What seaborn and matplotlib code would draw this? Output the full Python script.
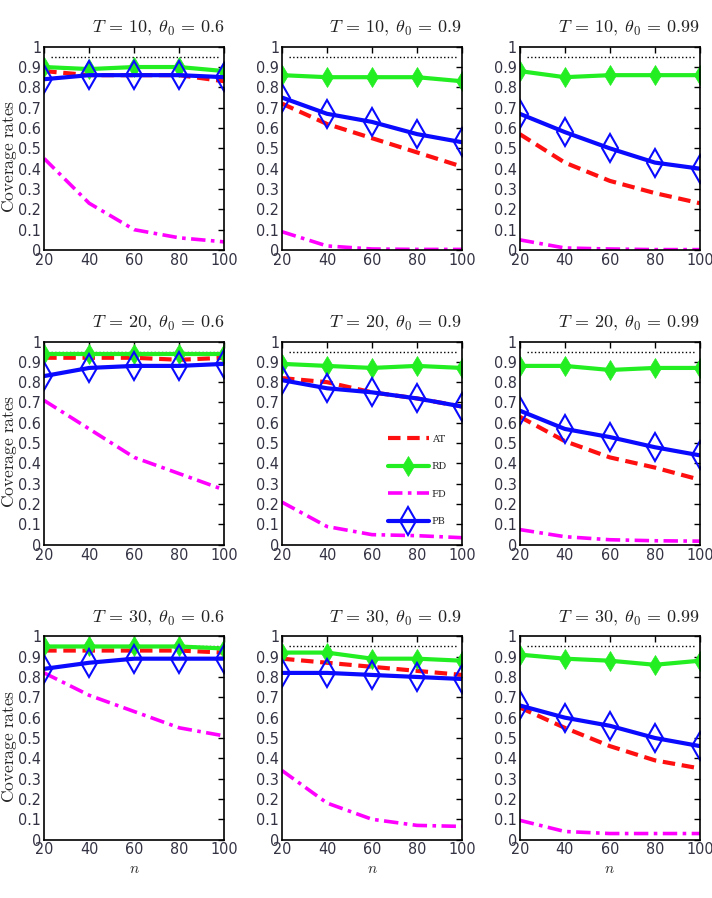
import matplotlib
matplotlib.use('Agg')
import matplotlib.pyplot as plt
from matplotlib import font_manager
import seaborn as sns
import numpy as np

sns.set_style('white')
plt.rcParams['mathtext.fontset'] = 'cm'

# pick a narrow sans font for the tick labels if one is installed
installed = font_manager.fontManager.ttflist
if any(f.name == 'Liberation Sans Narrow' for f in installed):
    tick_font = {'family': 'Liberation Sans Narrow', 'size': 12.5}
elif any(f.name == 'DejaVu Sans' and f.stretch == 'condensed' for f in installed):
    tick_font = {'family': 'DejaVu Sans', 'stretch': 'condensed', 'size': 11.5}
else:
    tick_font = {'family': 'Liberation Sans', 'size': 10.5}
plt.rcParams['font.family'] = ['Liberation Sans', 'DejaVu Sans']

# sample sizes
n_values = [20, 40, 60, 80, 100]
T_values = [10, 20, 30]
theta_values = ['0.6', '0.9', '0.99']

# coverage rates, rows = theta0 (0.6, 0.9, 0.99)
at_T10 = [[0.88, 0.86, 0.86, 0.86, 0.83],
          [0.72, 0.62, 0.55, 0.48, 0.41],
          [0.57, 0.43, 0.34, 0.28, 0.23]]
rd_T10 = [[0.90, 0.89, 0.90, 0.90, 0.88],
          [0.86, 0.85, 0.85, 0.85, 0.83],
          [0.88, 0.85, 0.86, 0.86, 0.86]]
fd_T10 = [[0.45, 0.23, 0.10, 0.06, 0.04],
          [0.09, 0.02, 0.005, 0.003, 0.003],
          [0.05, 0.01, 0.005, 0.002, 0.002]]
pb_T10 = [[0.84, 0.86, 0.86, 0.86, 0.85],
          [0.75, 0.67, 0.63, 0.57, 0.53],
          [0.67, 0.58, 0.50, 0.43, 0.40]]

at_T20 = [[0.92, 0.92, 0.92, 0.91, 0.92],
          [0.82, 0.80, 0.75, 0.72, 0.68],
          [0.63, 0.51, 0.43, 0.38, 0.32]]
rd_T20 = [[0.94, 0.94, 0.94, 0.94, 0.94],
          [0.89, 0.88, 0.87, 0.88, 0.87],
          [0.88, 0.88, 0.86, 0.87, 0.87]]
fd_T20 = [[0.71, 0.57, 0.43, 0.35, 0.27],
          [0.21, 0.09, 0.05, 0.045, 0.035],
          [0.075, 0.04, 0.025, 0.02, 0.018]]
pb_T20 = [[0.83, 0.87, 0.88, 0.88, 0.89],
          [0.81, 0.77, 0.75, 0.72, 0.68],
          [0.66, 0.57, 0.53, 0.48, 0.44]]

at_T30 = [[0.93, 0.93, 0.93, 0.93, 0.92],
          [0.89, 0.87, 0.85, 0.83, 0.81],
          [0.65, 0.55, 0.46, 0.39, 0.35]]
rd_T30 = [[0.95, 0.95, 0.95, 0.95, 0.94],
          [0.92, 0.92, 0.89, 0.89, 0.88],
          [0.91, 0.89, 0.88, 0.86, 0.88]]
fd_T30 = [[0.82, 0.71, 0.63, 0.55, 0.51],
          [0.34, 0.18, 0.10, 0.07, 0.065],
          [0.095, 0.04, 0.03, 0.03, 0.03]]
pb_T30 = [[0.84, 0.87, 0.89, 0.89, 0.89],
          [0.82, 0.82, 0.81, 0.80, 0.79],
          [0.66, 0.60, 0.56, 0.50, 0.46]]

nominal = 0.95

at_all = [at_T10, at_T20, at_T30]
rd_all = [rd_T10, rd_T20, rd_T30]
fd_all = [fd_T10, fd_T20, fd_T30]
pb_all = [pb_T10, pb_T20, pb_T30]

fig, axes = plt.subplots(3, 3, figsize=(7.12, 8.98), dpi=100)
plt.subplots_adjust(left=0.062, right=0.983, top=0.948, bottom=0.065,
                    wspace=0.32, hspace=0.45)

for i in range(3):
    for j in range(3):
        ax = axes[i, j]
        ax.axhline(nominal, xmin=0.04, xmax=0.97, color='black', linestyle=':', lw=1.0)
        sns.lineplot(x=n_values, y=at_all[i][j], ax=ax, color='#ff1010',
                     linestyle=(0, (3, 1.6)), lw=3.0, label='AT')
        sns.lineplot(x=n_values, y=rd_all[i][j], ax=ax, color='#22ee22',
                     lw=3.0, marker='d', markersize=10, markeredgecolor='#22ee22',
                     markeredgewidth=0.5, label='RD')
        sns.lineplot(x=n_values, y=fd_all[i][j], ax=ax, color='#ff00ff',
                     linestyle=(0, (4, 1.5, 1, 1.5)), lw=2.6, label='FD')
        sns.lineplot(x=n_values, y=pb_all[i][j], ax=ax, color='#0a0aff',
                     lw=3.0, marker='d', markersize=14, markerfacecolor='none',
                     markeredgecolor='#0a0aff', markeredgewidth=1.5, label='PB')

        ax.set_xlim(20, 100)
        ax.set_ylim(0, 1)
        ax.set_xticks(n_values)
        ax.set_yticks(np.arange(0, 1.01, 0.1))
        ax.set_yticklabels(['0'] + ['%.1f' % v for v in np.arange(0.1, 0.95, 0.1)] + ['1'])
        ax.tick_params(direction='in', length=4, width=1, top=True, right=True,
                       pad=2, colors='black')
        for lab in ax.get_xticklabels() + ax.get_yticklabels():
            lab.set_color('#333344')
            lab.set_fontproperties(font_manager.FontProperties(**tick_font))
        for s in ax.spines.values():
            s.set_color('black')
            s.set_linewidth(1.2)
        ax.set_title(r'$T\,=\,%d,\;\theta_0\,=\,%s$' % (T_values[i], theta_values[j]),
                     loc='right', fontsize=13, pad=10, color='#222222')
        ax.set_xlabel('')
        ax.set_ylabel('')

        if i == 1 and j == 1:
            ax.legend(loc='upper left', bbox_to_anchor=(0.54, 0.585), frameon=False,
                      prop={'family': 'DejaVu Serif', 'size': 7},
                      handlelength=4.2, labelspacing=1.9, handletextpad=0.3)
        else:
            ax.get_legend().remove()

        if j == 0:
            ax.set_ylabel(r'$\mathrm{Coverage\ rates}$', fontsize=12.5)
            ax.yaxis.set_label_coords(-0.14, 0.46)
        if i == 2:
            ax.set_xlabel(r'$n$', fontsize=11, labelpad=3)

plt.savefig('out.png', dpi=100)
plt.close('all')
